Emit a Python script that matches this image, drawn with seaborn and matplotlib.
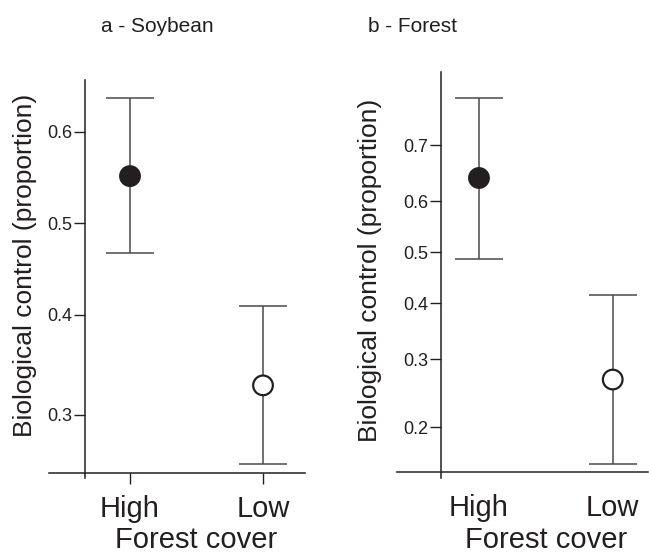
import numpy as np
import pandas as pd
import matplotlib
matplotlib.use("Agg")
import matplotlib.pyplot as plt
import seaborn as sns
from matplotlib.ticker import FixedLocator, FormatStrFormatter, NullLocator

sns.set_style("white")
plt.rcParams['font.family'] = ['Liberation Sans', 'DejaVu Sans']

# Data
categories = ["High", "Low"]
soy_mean = [0.552, 0.328]
soy_low = [0.467, 0.256]
soy_high = [0.635, 0.410]
forest_mean = [0.643, 0.267]
forest_low = [0.487, 0.157]
forest_high = [0.773, 0.416]
soy_ticks = [0.3, 0.4, 0.5, 0.6]
forest_ticks = [0.2, 0.3, 0.4, 0.5, 0.6, 0.7]
titles = ["a - Soybean", "b - Forest"]
ylabel = "Biological control (proportion)"
xlabel = "Forest cover"

fig = plt.figure(figsize=(6.49, 5.54), dpi=100)
ax_a = fig.add_axes([0.0755, 0.1372, 0.3945, 0.7184])
ax_b = fig.add_axes([0.6117, 0.1372, 0.3868, 0.7334])

line_col = "#231f20"
err_col = "#4a4a4a"

def panel(ax, means, lows, highs, ticks, ylim, xspine, xlim, yspine_x, xticks_on):
    df = pd.DataFrame({"cover": categories, "value": means})
    ax.set_yscale("logit")
    means_a = np.array(means)
    yerr = np.vstack([means_a - np.array(lows), np.array(highs) - means_a])
    ax.errorbar(categories, means, yerr=yerr, fmt="none", ecolor=err_col,
                elinewidth=1.1, capsize=17, capthick=1.1, zorder=2)
    sns.scatterplot(data=df, x="cover", y="value", hue="cover",
                    palette={"High": line_col, "Low": "white"},
                    edgecolor=line_col, linewidth=1.6, s=200, legend=False,
                    ax=ax, zorder=3)
    ax.set_ylim(*ylim)
    ax.set_xlim(*xlim)
    ax.yaxis.set_major_locator(FixedLocator(ticks))
    ax.yaxis.set_major_formatter(FormatStrFormatter("%.1f"))
    ax.yaxis.set_minor_locator(NullLocator())
    ax.yaxis.set_minor_formatter(plt.NullFormatter())
    for s in ["top", "right"]:
        ax.spines[s].set_visible(False)
    ax.spines["left"].set_position(("data", yspine_x))
    ax.spines["bottom"].set_position(("data", xspine))
    for s in ["left", "bottom"]:
        ax.spines[s].set_color(line_col)
        ax.spines[s].set_linewidth(1.1)
    ax.tick_params(axis="y", direction="out", length=8, width=1.0,
                   color=line_col, labelsize=13, labelcolor=line_col, pad=1, left=True)
    ax.tick_params(axis="x", direction="out", length=8 if xticks_on else 0,
                   width=1.0, color=line_col, labelsize=21,
                   labelcolor=line_col, pad=8 if xticks_on else 16, bottom=True)
    ax.set_xlabel("")
    ax.set_ylabel("")
    ax.patch.set_alpha(0)

panel(ax_a, soy_mean, soy_low, soy_high, soy_ticks, (0.2447, 0.6534), 0.2490,
      (-0.609, 1.316), -0.338, True)
panel(ax_b, forest_mean, forest_low, forest_high, forest_ticks, (0.1430, 0.8071), 0.1492,
      (-0.613, 1.264), -0.284, False)

# Titles and labels
fig.text(157 / 649, 1 - 27 / 554, titles[0], ha="center", va="center", fontsize=15, color=line_col)
fig.text(413 / 649, 1 - 27 / 554, titles[1], ha="center", va="center", fontsize=15, color=line_col)
fig.text(25 / 649, 1 - 265 / 554, ylabel, rotation=90, ha="center", va="center", fontsize=19, color=line_col)
fig.text(370 / 649, 1 - 270 / 554, ylabel, rotation=90, ha="center", va="center", fontsize=19, color=line_col)
fig.text(196 / 649, 1 - 540 / 554, xlabel, ha="center", va="center", fontsize=21, color=line_col)
fig.text(546 / 649, 1 - 540 / 554, xlabel, ha="center", va="center", fontsize=21, color=line_col)

fig.savefig("out.png", dpi=100)
